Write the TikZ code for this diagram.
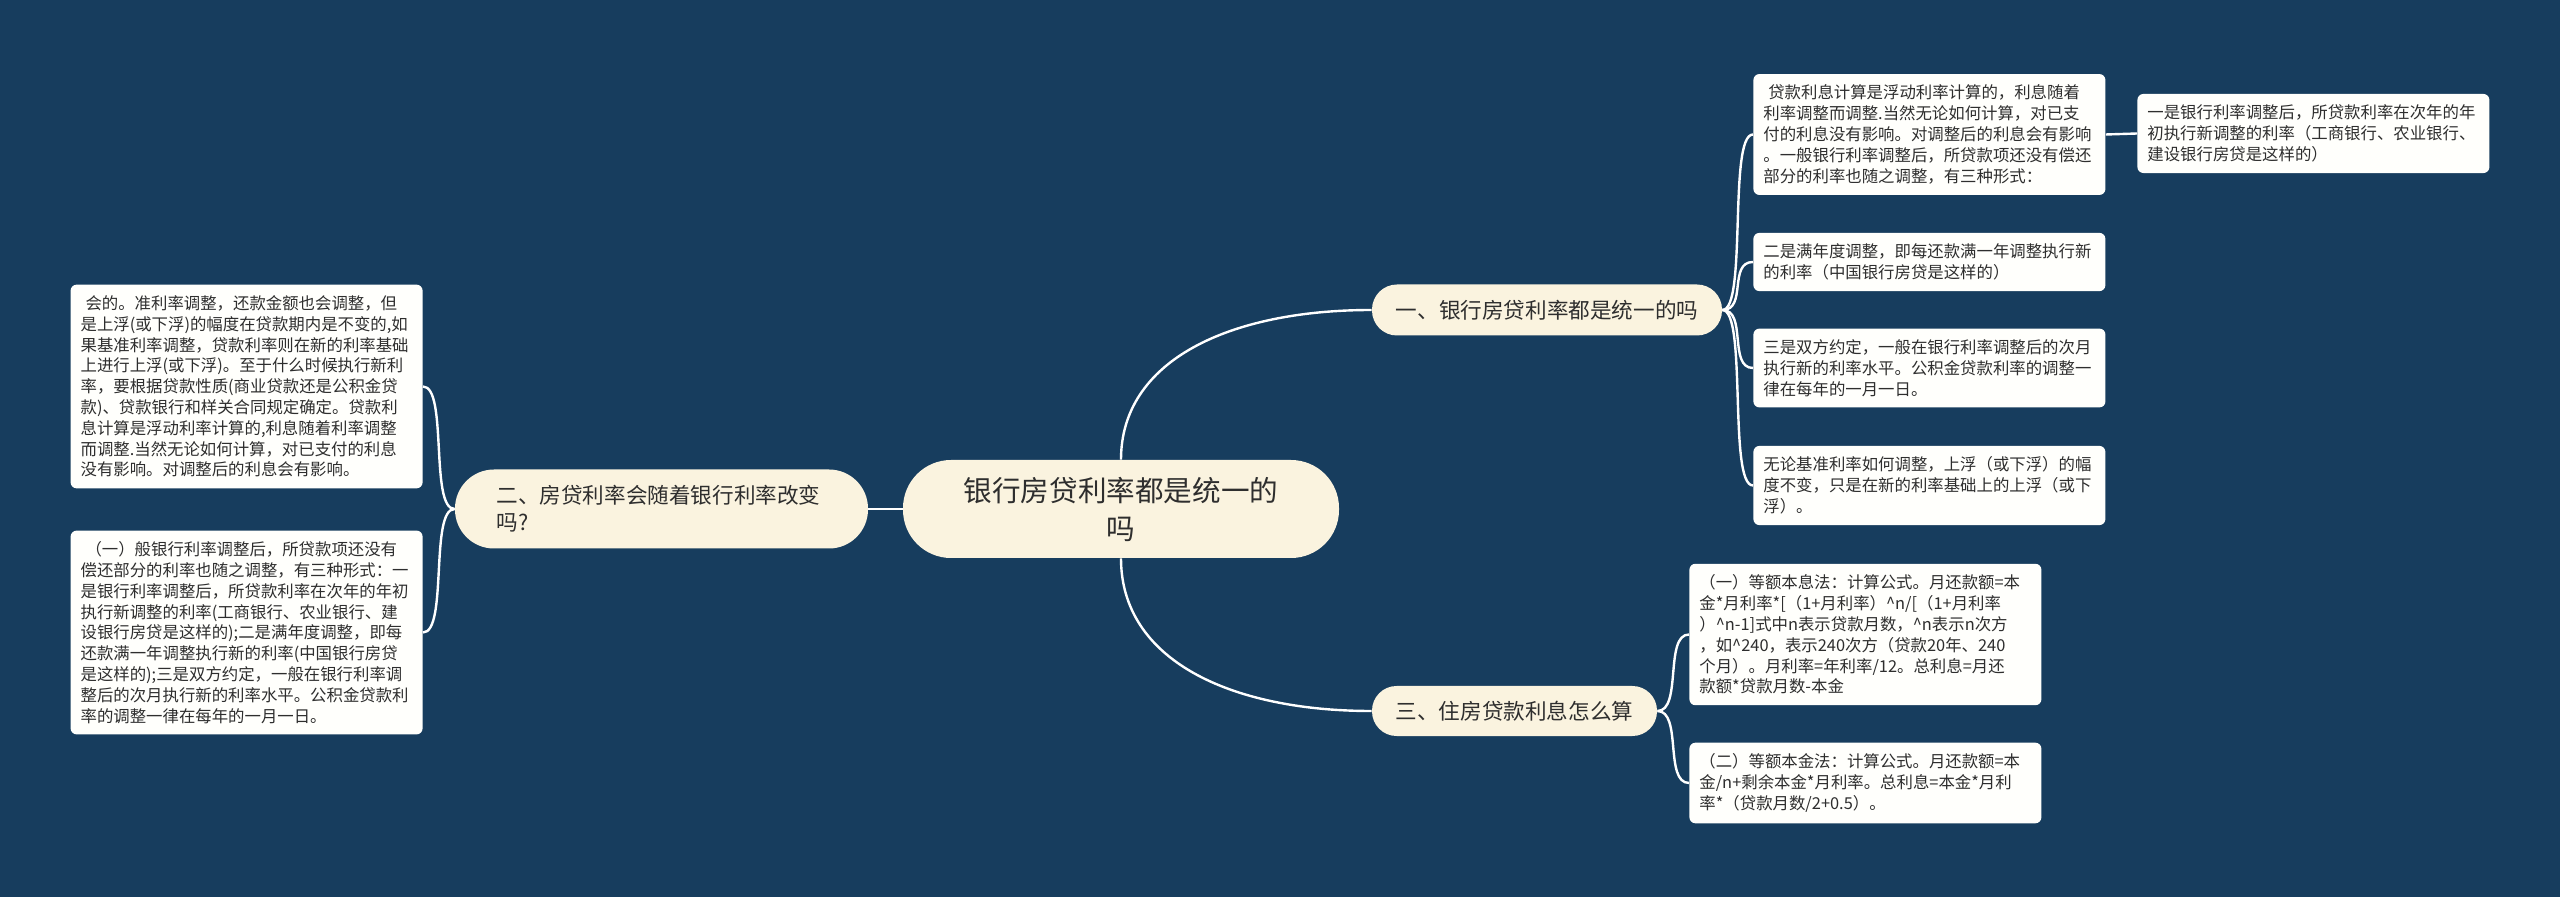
\documentclass[tikz,border=0pt]{standalone}
\usepackage{fontspec}
\setmainfont{Noto Sans CJK SC}
\usepackage{tikz}
\usepackage{xcolor}

\definecolor{deepsea}{HTML}{173D5E}
\definecolor{cream}{HTML}{FAF3DF}
\definecolor{paper}{HTML}{FFFFFC}
\definecolor{ink}{HTML}{2E2E2E}

\tikzset{
  rootbox/.style={fill=cream, text=ink, rounded corners=24pt, minimum width=218pt, minimum height=49pt, align=center, font=\fontsize{14.3}{19}\selectfont},
  topic/.style={fill=cream, text=ink, font=\fontsize{10.8}{13.5}\selectfont},
  leaf/.style={fill=paper, text=ink, rounded corners=3pt, align=left, text width=166pt, inner xsep=5pt, inner ysep=5.5pt, font=\fontsize{8.2}{10.4}\selectfont},
  link/.style={draw=white, line width=1.2pt},
}

\begin{document}
\begin{tikzpicture}[x=0.5pt, y=-0.5pt]
        \fill[deepsea] (0,0) rectangle (2560,897);

        \node (root) at (1121,509) [rootbox] {银行房贷利率都是统一的\\吗};

        \node (b1) at (1547,310) [topic, minimum width=175pt, minimum height=25.5pt, rounded corners=12.5pt] {一、银行房贷利率都是统一的吗};
        \node (b2) at (661.5,509) [topic, minimum width=206.5pt, minimum height=39.5pt, rounded corners=19.5pt, text width=165pt, align=left] {二、房贷利率会随着银行利率改变\\吗?};
        \node (b3) at (1514.5,711) [topic, minimum width=142.5pt, minimum height=25pt, rounded corners=12.3pt] {三、住房贷款利息怎么算};

        % leaves of b1
        \node (l1a) at (1753,134.5) [leaf, anchor=west] {\hspace*{0.3em}贷款利息计算是浮动利率计算的，利息随着\\利率调整而调整.当然无论如何计算，对已支\\付的利息没有影响。对调整后的利息会有影响\\。一般银行利率调整后，所贷款项还没有偿还\\部分的利率也随之调整，有三种形式：};
        \node (l1x) at (2137,133.5) [leaf, anchor=west] {一是银行利率调整后，所贷款利率在次年的年\\初执行新调整的利率（工商银行、农业银行、\\建设银行房贷是这样的）};
        \node (l1b) at (1753,262) [leaf, anchor=west] {二是满年度调整，即每还款满一年调整执行新\\的利率（中国银行房贷是这样的）};
        \node (l1c) at (1753,368) [leaf, anchor=west] {三是双方约定，一般在银行利率调整后的次月\\执行新的利率水平。公积金贷款利率的调整一\\律在每年的一月一日。};
        \node (l1d) at (1753,485.5) [leaf, anchor=west] {无论基准利率如何调整，上浮（或下浮）的幅\\度不变，只是在新的利率基础上的上浮（或下\\浮）。};

        % leaves of b2
        \node (l2a) at (423,386.5) [leaf, anchor=east] {\hspace*{0.3em}会的。准利率调整，还款金额也会调整，但\\是上浮(或下浮)的幅度在贷款期内是不变的,如\\果基准利率调整，贷款利率则在新的利率基础\\上进行上浮(或下浮)。至于什么时候执行新利\\率，要根据贷款性质(商业贷款还是公积金贷\\款)、贷款银行和样关合同规定确定。贷款利\\息计算是浮动利率计算的,利息随着利率调整\\而调整.当然无论如何计算，对已支付的利息\\没有影响。对调整后的利息会有影响。};
        \node (l2b) at (423,632.5) [leaf, anchor=east] {\hspace*{0.3em}（一）般银行利率调整后，所贷款项还没有\\偿还部分的利率也随之调整，有三种形式：一\\是银行利率调整后，所贷款利率在次年的年初\\执行新调整的利率(工商银行、农业银行、建\\设银行房贷是这样的);二是满年度调整，即每\\还款满一年调整执行新的利率(中国银行房贷\\是这样的);三是双方约定，一般在银行利率调\\整后的次月执行新的利率水平。公积金贷款利\\率的调整一律在每年的一月一日。};

        % leaves of b3
        \node (l3a) at (1689,634.5) [leaf, anchor=west] {（一）等额本息法：计算公式。月还款额=本\\金*月利率*[（1+月利率）\textasciicircum{}n/[（1+月利率\\）\textasciicircum{}n-1]式中n表示贷款月数，\textasciicircum{}n表示n次方\\，如\textasciicircum{}240，表示240次方（贷款20年、240\\个月）。月利率=年利率/12。总利息=月还\\款额*贷款月数-本金};
        \node (l3b) at (1689,783) [leaf, anchor=west] {（二）等额本金法：计算公式。月还款额=本\\金/n+剩余本金*月利率。总利息=本金*月利\\率*（贷款月数/2+0.5）。};

        \draw[link] (root.north) .. controls (1121,360) and (1230,310) .. (b1.west);
        \draw[link] (root.south) .. controls (1121,660) and (1230,711) .. (b3.west);
        \draw[link] (root.west) -- (b2.east);

        \foreach \leaf in {l1a,l1b,l1c,l1d}
            \draw[link] (b1.east) .. controls +(25,0) and +(-25,0) .. (\leaf.west);
        \foreach \leaf in {l3a,l3b}
            \draw[link] (b3.east) .. controls +(25,0) and +(-25,0) .. (\leaf.west);
        \foreach \leaf in {l2a,l2b}
            \draw[link] (b2.west) .. controls +(-25,0) and +(25,0) .. (\leaf.east);
        \draw[link] (l1a.east) -- (l1x.west);
    \end{tikzpicture}
\end{document}
